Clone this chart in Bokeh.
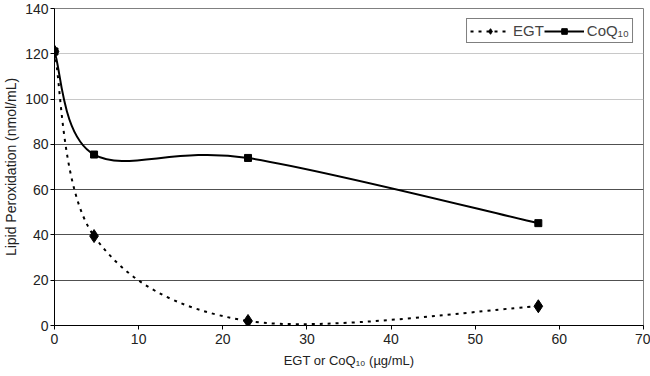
from bokeh.plotting import figure
from bokeh.models import Legend, LegendItem, Grid, FixedTicker, Range1d
from bokeh.embed import file_html
from bokeh.resources import INLINE

# ---- data ----
conc = [0, 4.7, 23, 57.5]
egt = [121, 39.5, 2, 8.5]
coq10 = [121, 75.5, 74, 45.2]
x_ticks = [0, 10, 20, 30, 40, 50, 60, 70]
y_ticks = [0, 20, 40, 60, 80, 100, 120, 140]
series_names = ["EGT", "CoQ\u2081\u2080"]
x_title = "EGT or CoQ\u2081\u2080 (\u00b5g/mL)"
y_title = "Lipid Peroxidation (nmol/mL)"


def smooth_segments(xs, ys):
    """Catmull-Rom style bezier control points (spreadsheet 'smoothed line')."""
    n = len(xs)
    out = dict(x0=[], y0=[], x1=[], y1=[], cx0=[], cy0=[], cx1=[], cy1=[])
    for i in range(n - 1):
        xp, yp = (xs[i - 1], ys[i - 1]) if i > 0 else (xs[i], ys[i])
        xn2, yn2 = (xs[i + 2], ys[i + 2]) if i + 2 < n else (xs[i + 1], ys[i + 1])
        out["x0"].append(xs[i]); out["y0"].append(ys[i])
        out["x1"].append(xs[i + 1]); out["y1"].append(ys[i + 1])
        out["cx0"].append(xs[i] + (xs[i + 1] - xp) / 6.0)
        out["cy0"].append(ys[i] + (ys[i + 1] - yp) / 6.0)
        out["cx1"].append(xs[i + 1] - (xn2 - xs[i]) / 6.0)
        out["cy1"].append(ys[i + 1] - (yn2 - ys[i]) / 6.0)
    return out


p = figure(width=650, height=376, output_backend="svg",
           toolbar_location=None, x_range=Range1d(0, 70), y_range=Range1d(0, 140),
           min_border_left=53, min_border_right=7, min_border_top=8, min_border_bottom=51)
p.background_fill_color = "white"
p.outline_line_color = "#808080"
p.outline_line_width = 1

p.xgrid.visible = False
p.ygrid.visible = False
dark_grid = Grid(dimension=1, ticker=FixedTicker(ticks=[20, 40, 60, 80]),
                 grid_line_color="#505050", grid_line_width=1)
light_grid = Grid(dimension=1, ticker=FixedTicker(ticks=[100, 120]),
                  grid_line_color="#c8c8c8", grid_line_width=1)
p.add_layout(dark_grid)
p.add_layout(light_grid)

font = "Liberation Sans"
for ax, ticks in ((p.xaxis[0], x_ticks), (p.yaxis[0], y_ticks)):
    ax.ticker = FixedTicker(ticks=ticks)
    ax.minor_tick_line_color = None
    ax.major_tick_in = 0
    ax.major_tick_out = 4
    ax.axis_line_color = "black"
    ax.major_tick_line_color = "black"
    ax.major_label_text_font = font
    ax.major_label_text_font_size = "14px"
    ax.major_label_text_color = "#222222"
    ax.axis_label_text_font = font
    ax.axis_label_text_font_style = "normal"
    ax.axis_label_text_color = "#222222"
p.xaxis.axis_label = x_title
p.yaxis.axis_label = y_title
p.xaxis.axis_label_text_font_size = "13px"
p.yaxis.axis_label_text_font_size = "14px"
p.xaxis.axis_label_standoff = 6
p.yaxis.axis_label_standoff = 3
p.xaxis.major_label_standoff = 4
p.yaxis.major_label_standoff = 2

egt_seg = smooth_segments(conc, egt)
coq_seg = smooth_segments(conc, coq10)

r_egt_line = p.bezier(source=egt_seg, x0="x0", y0="y0", x1="x1", y1="y1",
                      cx0="cx0", cy0="cy0", cx1="cx1", cy1="cy1",
                      line_color="black", line_width=2, line_dash="3 5")
r_coq_line = p.bezier(source=coq_seg, x0="x0", y0="y0", x1="x1", y1="y1",
                      cx0="cx0", cy0="cy0", cx1="cx1", cy1="cy1",
                      line_color="black", line_width=2)
r_egt_pts = p.scatter(conc, egt, marker="diamond", size=13, color="black")
r_coq_pts = p.scatter(conc, coq10, marker="square", size=7, color="black")

legend = Legend(items=[LegendItem(label=series_names[0], renderers=[r_egt_line, r_egt_pts]),
                       LegendItem(label=series_names[1], renderers=[r_coq_line, r_coq_pts])],
                orientation="horizontal", location="top_right",
                border_line_color="black", border_line_width=1,
                label_text_font=font, label_text_font_size="15px",
                glyph_width=40, glyph_height=14, spacing=0, padding=3,
                label_standoff=3, margin=10, background_fill_alpha=1)
p.add_layout(legend)

open("out.html", "w").write(file_html(p, INLINE))
